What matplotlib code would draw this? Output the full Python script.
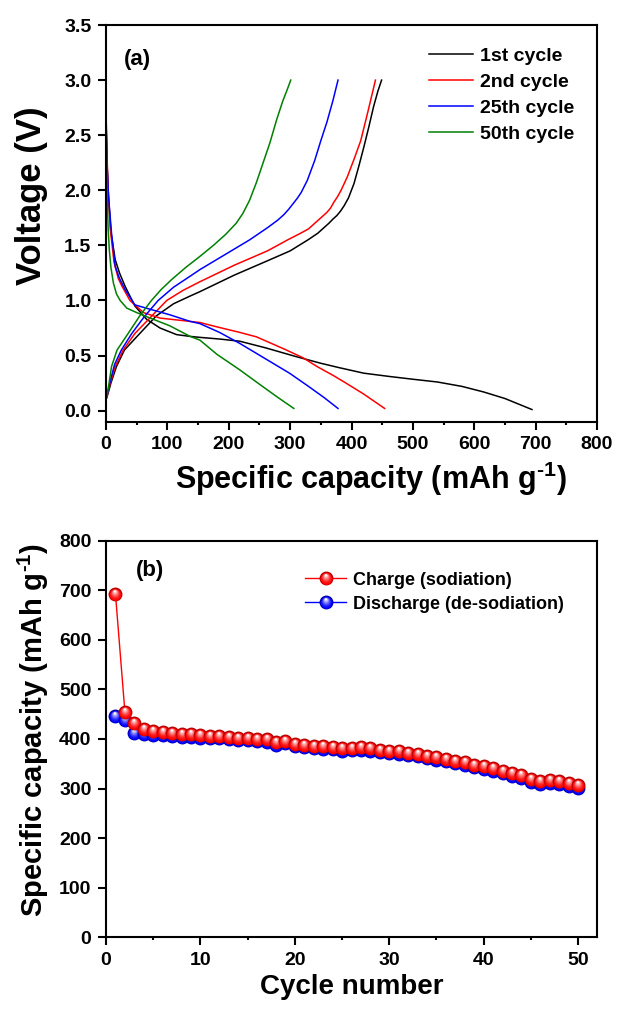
import numpy as np
import matplotlib
matplotlib.use("Agg")
import matplotlib.pyplot as plt
from matplotlib.path import Path
from matplotlib.lines import Line2D
from matplotlib.legend_handler import HandlerTuple
from matplotlib.colors import to_rgb
from matplotlib.ticker import MultipleLocator, FormatStrFormatter

plt.rcParams['font.family'] = ['Liberation Sans', 'DejaVu Sans']
plt.rcParams['font.weight'] = 'bold'
plt.rcParams['mathtext.fontset'] = 'custom'
plt.rcParams['mathtext.rm'] = 'Liberation Sans:bold'
plt.rcParams['mathtext.bf'] = 'Liberation Sans:bold'
plt.rcParams['mathtext.default'] = 'bf'

# ---------------- (a) galvanostatic voltage profiles ----------------
cyc1_dis_cap = [0, 1, 2, 4, 8, 15, 22, 31, 47, 66, 88, 115, 137, 153, 185, 218, 260,
                310, 350, 380, 420, 462, 500, 540, 580, 615, 650, 694]
cyc1_dis_v = [2.65, 2.45, 2.2, 1.95, 1.62, 1.37, 1.25, 1.13, 0.95, 0.83, 0.75, 0.69,
              0.674, 0.665, 0.65, 0.63, 0.57, 0.49, 0.43, 0.39, 0.34, 0.31, 0.285,
              0.26, 0.22, 0.17, 0.11, 0.01]
cyc1_chg_cap = [0, 3, 8, 17, 30, 55, 82, 110, 137, 153, 209, 263, 300, 329, 345, 355,
                363, 370, 376, 382, 388, 395, 404, 412, 420, 428, 436, 443, 449]
cyc1_chg_v = [0.10, 0.15, 0.25, 0.40, 0.55, 0.70, 0.86, 0.97, 1.04, 1.08, 1.23, 1.36,
              1.45, 1.55, 1.61, 1.66, 1.70, 1.74, 1.77, 1.81, 1.86, 1.93, 2.06, 2.22,
              2.39, 2.57, 2.76, 2.90, 3.0]

cyc2_dis_cap = [0, 1, 2, 4, 7, 13, 20, 26, 39, 61, 88, 137, 153, 181, 218, 245, 290,
                321, 344, 370, 391, 420, 454]
cyc2_dis_v = [2.70, 2.5, 2.25, 1.95, 1.65, 1.35, 1.2, 1.13, 1.0, 0.89, 0.84, 0.81,
              0.80, 0.76, 0.71, 0.67, 0.56, 0.48, 0.40, 0.32, 0.25, 0.15, 0.02]
cyc2_chg_cap = [0, 3, 7, 15, 28, 47, 73, 99, 125, 153, 209, 263, 296, 317, 330, 340,
                350, 360, 366, 371, 377, 383, 393, 404, 415, 427, 439]
cyc2_chg_v = [0.10, 0.16, 0.25, 0.40, 0.55, 0.70, 0.85, 1.00, 1.09, 1.17, 1.32, 1.45,
              1.55, 1.61, 1.65, 1.70, 1.75, 1.80, 1.84, 1.89, 1.94, 2.00, 2.12, 2.28,
              2.45, 2.72, 3.0]

cyc25_dis_cap = [0, 1, 2, 4, 9, 15, 22, 31, 47, 72, 104, 137, 153, 185, 218, 263, 299,
                 330, 355, 378]
cyc25_dis_v = [2.60, 2.4, 2.2, 1.95, 1.61, 1.31, 1.2, 1.10, 0.96, 0.92, 0.87, 0.81,
               0.79, 0.71, 0.61, 0.46, 0.34, 0.22, 0.12, 0.02]
cyc25_chg_cap = [0, 3, 7, 14, 25, 42, 62, 85, 110, 137, 153, 195, 234, 263, 280, 290,
                 298, 305, 312, 318, 328, 340, 350, 360, 370, 378]
cyc25_chg_v = [0.10, 0.17, 0.27, 0.42, 0.55, 0.70, 0.85, 1.00, 1.12, 1.22, 1.28, 1.42,
               1.55, 1.66, 1.73, 1.78, 1.83, 1.88, 1.93, 1.98, 2.09, 2.27, 2.45, 2.62,
               2.82, 3.0]

cyc50_dis_cap = [0, 1, 2, 3.5, 5.4, 8, 12, 17, 23, 34, 50, 72, 104, 137, 153, 181,
                 218, 250, 280, 306]
cyc50_dis_v = [2.55, 2.3, 1.91, 1.65, 1.46, 1.30, 1.16, 1.06, 1.0, 0.93, 0.89, 0.84,
               0.77, 0.674, 0.64, 0.51, 0.37, 0.24, 0.12, 0.02]
cyc50_chg_cap = [0, 3, 5, 9, 18, 36, 55, 74, 90, 107, 130, 153, 175, 195, 212, 223,
                 234, 245, 256, 267, 278, 288, 295, 301]
cyc50_chg_v = [0.10, 0.18, 0.25, 0.40, 0.55, 0.70, 0.86, 1.00, 1.10, 1.19, 1.30, 1.40,
               1.50, 1.60, 1.70, 1.79, 1.91, 2.07, 2.25, 2.43, 2.64, 2.81, 2.91, 3.0]

profile_labels = ['1st cycle', '2nd cycle', '25th cycle', '50th cycle']
profile_colors = ['black', '#ff0000', '#0000ff', '#008000']

# ---------------- (b) cycling performance ----------------
cycles = list(range(1, 51))
charge_cap = [693, 455, 433, 420, 416, 414, 413, 411, 410, 408, 407, 406, 404, 403,
              402, 400, 400, 393, 396, 390, 388, 386, 385, 384, 381, 382, 383, 381,
              378, 376, 375, 372, 370, 366, 363, 360, 356, 353, 348, 345, 341, 336,
              331, 327, 319, 316, 318, 316, 312, 308]
discharge_cap = [447, 438, 413, 410, 409, 408, 407, 405, 404, 403, 402, 401, 399, 398,
                 397, 395, 394, 388, 391, 385, 383, 381, 380, 379, 376, 377, 378, 376,
                 373, 371, 370, 367, 365, 361, 358, 355, 351, 348, 343, 340, 336, 331,
                 326, 322, 313, 310, 312, 310, 306, 302]


def sphere_markers(base, dark, n=7):
    """Stack of offset circle markers that together look like a shaded ball."""
    circ = Path.unit_circle()
    frame = [Path([[-1.0, -1.0]], [Path.MOVETO]), Path([[1.0, 1.0]], [Path.MOVETO])]
    out = []
    b = np.array(to_rgb(base))
    w = np.ones(3)
    out.append((Path.make_compound_path(*frame, circ), to_rgb(dark)))
    for i in range(n + 1):
        t = i / n
        r = 0.86 * (1 - t) + 0.14 * t
        cx, cy = -0.08 * t, 0.45 * t - 0.06 * (1 - t)
        verts = circ.vertices * r + np.array([cx, cy])
        p = Path(verts, circ.codes)
        f = t ** 1.5
        col = b * (1 - f) + w * f
        out.append((Path.make_compound_path(*frame, p), tuple(col)))
    return out


fig = plt.figure(figsize=(6.17, 10.09), dpi=100)
ax1 = fig.add_axes([0.1718, 0.5821, 0.7958, 0.3931])
ax2 = fig.add_axes([0.1718, 0.0711, 0.7958, 0.3930])

profiles = [
    (cyc1_dis_cap, cyc1_dis_v, cyc1_chg_cap, cyc1_chg_v),
    (cyc2_dis_cap, cyc2_dis_v, cyc2_chg_cap, cyc2_chg_v),
    (cyc25_dis_cap, cyc25_dis_v, cyc25_chg_cap, cyc25_chg_v),
    (cyc50_dis_cap, cyc50_dis_v, cyc50_chg_cap, cyc50_chg_v),
]
for (dc, dv, cc, cv), lab, col in zip(profiles, profile_labels, profile_colors):
    ax1.plot(dc, dv, color=col, lw=1.1, label=lab, solid_joinstyle='round')
    ax1.plot(cc, cv, color=col, lw=1.1, solid_joinstyle='round')

ax1.set_xlim(0, 800)
ax1.set_ylim(-0.1, 3.5)
ax1.xaxis.set_major_locator(MultipleLocator(100))
ax1.xaxis.set_minor_locator(MultipleLocator(50))
ax1.yaxis.set_major_locator(MultipleLocator(0.5))
ax1.yaxis.set_major_formatter(FormatStrFormatter('%.1f'))
ax1.set_xlabel(r'Specific capacity (mAh g$^{\text{-1}}$)', fontsize=22,
               fontweight='bold')
ax1.xaxis.set_label_coords(0.54, -0.097)
ax1.set_ylabel('Voltage (V)', fontsize=25, fontweight='bold')
ax1.yaxis.set_label_coords(-0.118, 0.569)
ax1.text(0.065, 0.912, '(a)', transform=ax1.transAxes, fontsize=16,
         fontweight='bold', ha='center', va='center')
leg1 = ax1.legend(loc='upper left', bbox_to_anchor=(0.657, 0.943), frameon=False,
                  fontsize=14, handlelength=2.3, handletextpad=0.36,
                  labelspacing=0.43, borderpad=0, borderaxespad=0)
for t in leg1.get_texts():
    t.set_fontweight('bold')

# cycling data with shaded ball markers
ms = 10
series = [(discharge_cap, '#0000ff', '#0000a8', 'Discharge (de-sodiation)'),
          (charge_cap, '#ff0000', '#b80000', 'Charge (sodiation)')]
handles = {}
for k, (vals, col, dark, lab) in enumerate(series):
    z = 3 + 2 * k
    ax2.plot(cycles, vals, color=col, lw=1.0, zorder=z)
    layers = sphere_markers(col, dark)
    for x, y in zip(cycles, vals):
        for mk, mc in layers:
            ax2.plot([x], [y], ls='none', marker=mk, ms=ms, mfc=mc, mec='none',
                     zorder=z + 1)
    h = [Line2D([], [], color=col, lw=1.0)]
    for mk, mc in layers:
        h.append(Line2D([], [], ls='none', marker=mk, ms=ms, mfc=mc, mec='none'))
    handles[lab] = tuple(h)

leg_labels = ['Charge (sodiation)', 'Discharge (de-sodiation)']
leg2 = ax2.legend([handles[l] for l in leg_labels], leg_labels,
                  handler_map={tuple: HandlerTuple(ndivide=1, pad=0)},
                  loc='upper left', bbox_to_anchor=(0.405, 0.922), frameon=False,
                  fontsize=13, handlelength=2.3, handletextpad=0.37,
                  labelspacing=0.38, borderpad=0, borderaxespad=0, numpoints=1)
for t in leg2.get_texts():
    t.set_fontweight('bold')

ax2.set_xlim(0, 52)
ax2.set_ylim(0, 800)
ax2.xaxis.set_major_locator(MultipleLocator(10))
ax2.xaxis.set_minor_locator(MultipleLocator(5))
ax2.yaxis.set_major_locator(MultipleLocator(100))
ax2.set_xlabel('Cycle number', fontsize=20, fontweight='bold', labelpad=4)
ax2.set_ylabel(r'Specific capacity (mAh g$^{\text{-1}}$)', fontsize=21,
               fontweight='bold')
ax2.yaxis.set_label_coords(-0.113, 0.523)
ax2.text(0.0906, 0.926, '(b)', transform=ax2.transAxes, fontsize=16,
         fontweight='bold', ha='center', va='center')

for ax in (ax1, ax2):
    for s in ax.spines.values():
        s.set_linewidth(1.5)
    ax.tick_params(which='major', direction='out', length=5.5, width=1.5,
                   labelsize=14)
    ax.tick_params(axis='x', which='major', pad=5)
    ax.tick_params(axis='y', which='major', pad=5)
    ax.tick_params(which='minor', direction='out', length=2.5, width=1.5)
    ax.tick_params(axis='y', which='minor', left=False)
    for lbl in ax.get_xticklabels() + ax.get_yticklabels():
        lbl.set_fontweight('bold')

fig.savefig('out.png', dpi=100)
